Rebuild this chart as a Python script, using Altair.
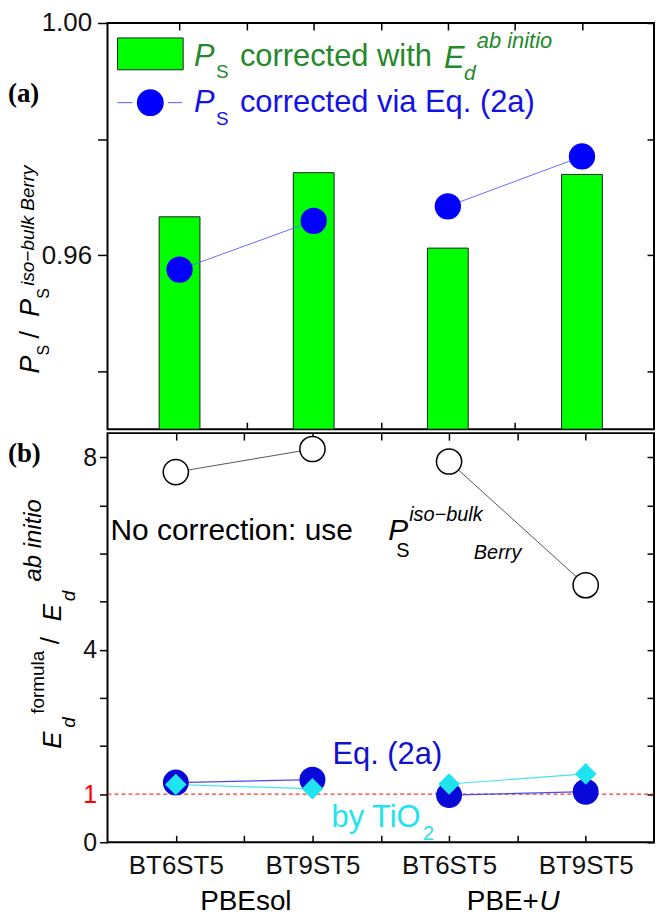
import json
import altair as alt
import pandas as pd

# ---------------- data ----------------
structures = ["BT6ST5", "BT9ST5", "BT6ST5", "BT9ST5"]
positions = [1, 2, 3, 4]
functionals = ["PBEsol", "PBEsol", "PBE+U", "PBE+U"]

# panel (a): P_S / P_S^{iso-bulk Berry}
ps_ab_initio = [0.9666, 0.9742, 0.9612, 0.9739]   # bars
ps_eq2a = [0.9575, 0.9659, 0.9684, 0.9770]        # blue circles

# panel (b): E_d^formula / E_d^ab initio
ratio_no_corr = [7.69, 8.17, 7.91, 5.34]           # open circles
ratio_eq2a = [1.24, 1.30, 0.98, 1.05]              # blue circles
ratio_tio2 = [1.20, 1.11, 1.21, 1.42]              # cyan diamonds

x_domain = [0.5, 4.5]
ya_domain = [0.93, 1.00]
yb_domain = [0, 8.5]
x_ticks = [1, 1.5, 2, 2.5, 3, 3.5, 4]
ya_ticks = [0.94, 0.96, 0.98, 1.00]
yb_ticks = [0, 1, 2, 3, 4, 5, 6, 7, 8]
yb_labelled = [0, 1, 4, 8]
reference_ratio = 1

df = pd.DataFrame({
    "pos": positions,
    "structure": structures,
    "functional": functionals,
    "ps_ab": ps_ab_initio,
    "ps_eq": ps_eq2a,
    "r_none": ratio_no_corr,
    "r_eq": ratio_eq2a,
    "r_tio2": ratio_tio2,
})
one = pd.DataFrame({"k": [0]})

SANS = "Liberation Sans"
SERIF = "Liberation Serif"
W, HA, HB = 549, 408, 411

GREEN_TXT = "#23892a"
BLUE_TXT = "#1212e8"
CYAN = "#1fe3ee"

inward = alt.ExprRef(expr="-7")


def xenc(axis=None):
    return alt.X("pos:Q", scale=alt.Scale(domain=x_domain, nice=False, zero=False), axis=axis)


def ya(field, axis=None):
    return alt.Y(f"{field}:Q", scale=alt.Scale(domain=ya_domain, nice=False, zero=False), axis=axis)


def yb(field, axis=None):
    return alt.Y(f"{field}:Q", scale=alt.Scale(domain=yb_domain, nice=False, zero=False), axis=axis)


def txt(s, x, y, size, color="black", italic=False, bold=False, font=SANS, angle=None, align="left"):
    mk = dict(text=s, fontSize=size, color=color, font=font, align=align, baseline="alphabetic")
    if italic:
        mk["fontStyle"] = "italic"
    if bold:
        mk["fontWeight"] = "bold"
    if angle is not None:
        mk["angle"] = angle
    return alt.Chart(one).mark_text(**mk).encode(x=alt.value(x), y=alt.value(y))


# ---------------- panel (a) ----------------
ax_a_bottom = alt.Axis(orient="bottom", values=x_ticks, labels=False, tickSize=inward, title=None)
ax_a_top = alt.Axis(orient="top", values=x_ticks, labels=False, tickSize=inward, title=None)
ax_a_right = alt.Axis(orient="right", values=ya_ticks, labels=False, tickSize=inward, title=None)
ax_a_left = alt.Axis(
    orient="left", values=ya_ticks, tickSize=10, labelPadding=6, labelFontSize=26,
    labelExpr="(abs(datum.value - 0.96) < 1e-6 || abs(datum.value - 1) < 1e-6) ? format(datum.value, '.2f') : ''",
    title=None,
)

bars = alt.Chart(df).mark_bar(size=41, fill="#00ff00", stroke="#222222", strokeWidth=1, clip=True).encode(
    x=xenc(ax_a_bottom), y=ya("ps_ab", ax_a_left), y2=alt.datum(ya_domain[0])
)
frame_a = alt.Chart(df).mark_point(opacity=0).encode(x=xenc(ax_a_top), y=ya("ps_ab", ax_a_right))
line_a = alt.Chart(df).mark_line(color="#6b6bff", strokeWidth=1).encode(
    x=xenc(), y=ya("ps_eq"), detail="functional:N"
)
pts_a = alt.Chart(df).mark_point(filled=True, shape="circle", size=700, color="#0000ff", opacity=1).encode(
    x=xenc(), y=ya("ps_eq")
)

LF = 31
legend_a = [
    alt.Chart(one).mark_rect(fill="#00ff00", stroke="#222222", strokeWidth=1).encode(
        x=alt.value(10), x2=alt.value(76), y=alt.value(15), y2=alt.value(47)),
    alt.Chart(one).mark_rule(color="#5a5aff", strokeWidth=1).encode(
        x=alt.value(10), x2=alt.value(25), y=alt.value(80)),
    alt.Chart(one).mark_rule(color="#5a5aff", strokeWidth=1).encode(
        x=alt.value(61), x2=alt.value(75), y=alt.value(80)),
    alt.Chart(one).mark_point(filled=True, shape="circle", size=729, color="#0000ff", opacity=1).encode(
        x=alt.value(43), y=alt.value(80)),
    txt("P", 87, 43, LF, GREEN_TXT, italic=True),
    txt("S", 109, 55, 19, GREEN_TXT),
    txt("corrected with", 133, 43, LF, GREEN_TXT),
    txt("E", 338, 45, LF, GREEN_TXT, italic=True),
    txt("d", 358, 57, 21, GREEN_TXT, italic=True),
    txt("ab initio", 371, 25, 22, GREEN_TXT, italic=True),
    txt("P", 87, 89, LF, BLUE_TXT, italic=True),
    txt("S", 109, 102, 19, BLUE_TXT),
    txt("corrected via Eq. (2a)", 133, 89, LF, BLUE_TXT),
]

texts_a = [
    txt("(a)", -100, 79, 27, "black", bold=True, font=SERIF),
    txt("P", -69, 352, 27, "black", italic=True, angle=270),
    txt("S", -59, 334, 16, "black", angle=270),
    txt("/", -69, 317, 27, "black", angle=270),
    txt("P", -69, 295, 27, "black", italic=True, angle=270),
    txt("S", -59, 277, 16, "black", angle=270),
    txt("iso\u2212bulk Berry", -74, 264, 19, "black", italic=True, angle=270),
]

top = alt.layer(bars, frame_a, line_a, pts_a, *legend_a, *texts_a).resolve_axis(
    x="independent", y="independent"
).properties(width=W, height=HA)

# ---------------- panel (b) ----------------
labels_expr = json.dumps(structures) + "[datum.value - 1]"
ax_b_labels = alt.Axis(
    orient="bottom", values=positions, ticks=False, tickSize=0, labelPadding=10, labelFontSize=26,
    labelExpr=labels_expr, title=None,
)
ax_b_bottom = alt.Axis(orient="bottom", values=x_ticks, labels=False, tickSize=inward, title=None)
ax_b_top = alt.Axis(orient="top", values=x_ticks, labels=False, tickSize=inward, title=None)
ax_b_right = alt.Axis(orient="right", values=yb_ticks, labels=False, tickSize=inward, title=None)
ax_b_left = alt.Axis(
    orient="left", values=yb_ticks, tickSize=8, labelPadding=3, labelFontSize=25,
    labelExpr=f"indexof({json.dumps(yb_labelled)}, datum.value) >= 0 ? datum.label : ''",
    labelColor=alt.condition("datum.value == 1", alt.value("#ff0000"), alt.value("#111111")),
    title=None,
)

rule_b = alt.Chart(one).mark_rule(color="#ff0000", strokeDash=[4, 3], strokeWidth=1).encode(
    y=alt.Y(datum=reference_ratio, scale=alt.Scale(domain=yb_domain, nice=False, zero=False), axis=None),
    x=alt.value(0), x2=alt.value(W),
)

frame_b1 = alt.Chart(df).mark_point(opacity=0).encode(x=xenc(ax_b_bottom), y=yb("r_none", ax_b_right))
frame_b2 = alt.Chart(df).mark_point(opacity=0).encode(x=xenc(ax_b_top), y=yb("r_none"))
line_none = alt.Chart(df).mark_line(color="#555555", strokeWidth=1).encode(
    x=xenc(), y=yb("r_none"), detail="functional:N")
pts_none = alt.Chart(df).mark_point(
    shape="circle", size=640, filled=True, fill="white", stroke="black", strokeWidth=1.5, opacity=1
).encode(x=xenc(ax_b_labels), y=yb("r_none", ax_b_left))
line_eq = alt.Chart(df).mark_line(color="#4a4aee", strokeWidth=1.2).encode(
    x=xenc(), y=yb("r_eq"), detail="functional:N")
line_tio2 = alt.Chart(df).mark_line(color="#40e4f0", strokeWidth=1.2).encode(
    x=xenc(), y=yb("r_tio2"), detail="functional:N")
pts_eq = alt.Chart(df).mark_point(filled=True, shape="circle", size=680, color="#0808d8", opacity=1).encode(
    x=xenc(), y=yb("r_eq"))
pts_tio2 = alt.Chart(df).mark_point(filled=True, shape="diamond", size=470, color=CYAN, opacity=1).encode(
    x=xenc(), y=yb("r_tio2"))

texts_b = [
    txt("(b)", -100, 29, 27, "black", bold=True, font=SERIF),
    txt("No correction: use", 3, 107, 30, "black"),
    txt("P", 282, 107, 30, "black", italic=True),
    txt("S", 290, 124, 20, "black"),
    txt("iso\u2212bulk", 303, 88, 20, "black", italic=True),
    txt("Berry", 368, 126, 20, "black", italic=True),
    txt("Eq. (2a)", 226, 332, 31, "#1010d0"),
    txt("by TiO", 225, 396, 31, CYAN),
    txt("2", 317, 409, 20, CYAN),
    txt("PBEsol", 139, 479, 28, "black", align="center"),
    txt("PBE+", 361, 479, 28, "black"),
    txt("U", 434, 479, 28, "black", italic=True),
    # y-axis title
    txt("E", -47, 317, 26, "black", italic=True, angle=270),
    txt("d", -33, 296, 19, "black", italic=True, angle=270),
    txt("formula", -64, 282, 19, "black", angle=270),
    txt("/", -49, 212, 26, "black", angle=270),
    txt("E", -47, 189, 26, "black", italic=True, angle=270),
    txt("d", -33, 169, 19, "black", italic=True, angle=270),
    txt("ab initio", -67, 149, 24, "black", italic=True, angle=270),
]

bottom = alt.layer(
    rule_b, frame_b1, frame_b2, line_none, pts_none, line_eq, line_tio2, pts_eq, pts_tio2, *texts_b
).resolve_axis(x="independent", y="independent").properties(width=W, height=HB)

chart = alt.vconcat(top, bottom, spacing=0).properties(
    padding={"left": 7, "top": 7, "right": 0, "bottom": 0}
).configure_view(stroke="black", strokeWidth=2).configure_axis(
    domain=False, grid=False, tickColor="black", tickWidth=1.5,
    labelFont=SANS, labelColor="#111111",
)

chart.save("out.html", embed_options={"renderer": "svg", "actions": False})
